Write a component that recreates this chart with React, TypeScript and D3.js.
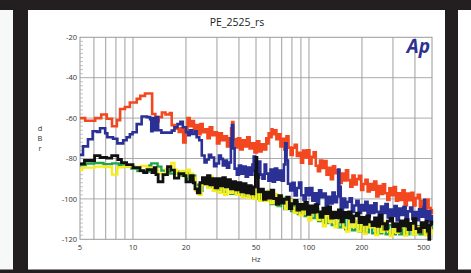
import * as d3 from 'd3';
import * as React from 'react';

type Pt = [number, number];

const title = 'PE_2525_rs';
const xTicks = [5, 10, 20, 50, 100, 200, 500];
const xGrid = [6, 7, 8, 9, 10, 20, 30, 40, 50, 60, 70, 80, 90, 100, 200, 300, 400];
const yTicks = [-20, -40, -60, -80, -100, -120];

// [Hz, dBr]
const red: Pt[] = [
  [5, -60], [5.35, -61.3], [6.1, -60], [6.6, -58.2], [7.1, -60.3], [7.6, -64], [8.1, -61], [8.45, -55.5],
  [9.0, -54.5], [9.6, -52.3], [10.5, -50.5], [11.0, -49], [11.7, -47.8], [12.55, -47.8], [12.85, -58],
  [13.4, -61.5], [14.0, -59.5], [14.6, -57.2], [15.3, -58.2], [16.2, -57.5], [16.6, -63.5], [17.3, -65.2],
  [18.2, -66.8], [18.8, -65], [19.3, -72], [19.9, -66], [20.4, -60], [21.0, -64], [21.6, -61.5],
  [22.2, -65.5], [22.8, -63.5], [23.5, -68], [24.2, -63], [24.9, -67], [25.7, -65.5], [26.5, -70],
  [27.3, -64.5], [28.2, -68.5], [29.1, -67], [30.0, -72.5], [31.0, -67.5], [32.0, -71], [33.1, -69],
  [34.2, -74], [35.3, -70], [36.1, -65], [36.6, -62], [37.2, -70.5], [38.3, -74.5], [39.5, -70],
  [40.7, -75.5], [42.0, -71], [43.3, -74], [44.6, -69.5], [46.0, -75], [47.5, -72.5], [49.0, -77],
  [50.6, -71.5], [52.2, -76.5], [53.8, -73], [55.5, -75.5], [57.2, -70], [58.0, -72.5], [59.0, -67.5],
  [60.5, -69.5], [61.3, -65.5], [62.0, -68], [63.6, -66], [65.3, -70.5], [67.0, -68], [68.8, -74],
  [70.6, -70.3], [72.5, -75.7], [74.5, -69], [76.5, -74.6], [78.6, -78.3], [80.8, -74.7], [83.0, -73.2],
  [85.3, -78.7], [87.7, -77.2], [90.1, -82.1], [92.6, -76.1], [95.2, -79.5], [97.9, -76], [100.6, -82.6],
  [103.4, -79.2], [106.3, -76.9], [109.3, -83.6], [112.4, -86.3], [115.6, -81], [118.9, -84.7],
  [122.3, -81.3], [125.8, -88], [129.4, -84.6], [133.1, -90.2], [136.9, -83.8], [140.8, -87.3],
  [144.8, -85.8], [149.0, -92.1], [153.3, -87.5], [157.7, -90.9], [162.2, -85.8], [166.9, -90.7],
  [171.7, -94], [176.6, -88.4], [181.7, -92.8], [186.9, -90.2], [192.3, -88.6], [197.8, -95.6],
  [203.5, -92.6], [209.4, -90.5], [215.4, -96.3], [221.6, -92.7], [228.0, -95.5], [234.6, -91.4],
  [241.4, -98.8], [248.4, -93.7], [255.6, -97.5], [263.0, -92.8], [270.6, -97.2], [278.4, -100.5],
  [286.4, -94.8], [294.7, -98.2], [303.2, -94.1], [312.0, -100.9], [321.0, -97.2], [330.3, -100.5],
  [339.8, -95.8], [349.6, -103.1], [359.7, -97.4], [370.1, -100.7], [380.8, -97], [391.8, -103.3],
  [403.1, -99.6], [414.7, -98], [426.7, -104], [439.0, -101], [451.7, -105.5], [464.7, -100.5],
  [478.1, -104.5], [491.9, -107], [500, -105],
];

const blue: Pt[] = [
  [5, -78.2], [5.2, -74], [5.55, -70.5], [5.9, -66.5], [6.25, -66.8], [6.5, -65], [6.95, -67.5], [7.15, -69.5],
  [7.7, -70.2], [8.15, -72.5], [8.8, -71], [9.2, -69.5], [9.6, -68], [9.95, -67], [10.5, -63], [11.2, -59.2],
  [12.0, -59.5], [12.5, -60.5], [12.7, -66.5], [12.9, -60], [13.3, -66], [13.6, -59.5], [13.9, -66],
  [14.5, -67.2], [16.6, -66.2], [17.2, -64.5], [17.9, -63], [18.6, -61.8], [19.2, -64.5], [20.0, -67],
  [20.6, -68.5], [21.0, -66], [21.7, -67.8], [22.5, -66.5], [23.0, -69.5], [23.8, -71], [24.6, -78.5],
  [25.5, -82], [26.2, -80.5], [27.0, -78.2], [27.8, -79.5], [28.9, -83.8], [29.8, -82.5], [30.8, -78.5],
  [31.6, -80.2], [32.4, -83.5], [33.3, -81], [34.2, -84.5], [35.2, -82], [36.0, -70], [36.5, -63.5],
  [37.1, -75], [37.8, -85], [38.9, -88], [40.0, -83.5], [41.2, -87.5], [42.4, -84], [43.7, -89],
  [45.0, -84.5], [46.3, -88], [47.7, -83], [48.5, -79], [49.3, -86], [50.6, -89.5], [52.0, -81.5],
  [52.9, -88], [54.4, -90], [56.0, -83], [57.1, -87.5], [58.8, -91], [60.5, -85.5], [62.3, -91.5],
  [64.1, -85], [66.0, -90.5], [68.0, -86], [70.0, -91], [72.0, -83], [73.3, -72.5], [74.6, -81],
  [76.0, -92.5], [78.2, -95.8], [80.5, -92], [82.9, -98.3], [85.3, -94.6], [87.8, -91.9], [90.4, -98.2],
  [93.1, -100.5], [95.8, -94.8], [98.6, -98.2], [101.5, -94.6], [104.5, -100.9], [107.6, -97.2],
  [110.8, -102.5], [114.1, -95.8], [117.5, -99.1], [121, -97.4], [124.6, -103.7], [128.3, -99],
  [132.1, -102.2], [136.0, -96.9], [140.0, -101.6], [144.2, -98.8], [146.5, -85.5], [148.8, -94],
  [151.5, -105.5], [156.0, -99.8], [160.6, -104.1], [165.4, -101.4], [170.3, -99.7], [175.3, -106.5],
  [180.5, -103.3], [185.9, -101], [191.4, -106.8], [197.1, -103], [203.0, -105.7], [209.0, -101.4],
  [215.2, -108.6], [221.6, -103.3], [228.2, -107], [235.0, -102.2], [242.0, -106.4], [249.2, -109.6],
  [256.6, -103.8], [264.2, -107], [272.1, -102.6], [280.2, -109.2], [288.5, -105.3], [297.1, -108.5],
  [305.9, -103.6], [315.0, -110.7], [324.4, -104.8], [334.0, -107.9], [344.0, -104], [354.2, -110.1],
  [364.7, -106.2], [375.6, -104.3], [386.7, -109.9], [398.2, -106.5], [410.1, -110.6], [422.3, -105.2],
  [434.8, -108.8], [447.8, -104], [452, -100.5], [456, -106], [461.1, -111], [474.8, -106],
  [488.9, -110.7], [500, -108],
];

const green: Pt[] = [
  [5, -83.2], [5.4, -82.5], [6.0, -82.2], [6.8, -82.8], [7.6, -82.4], [8.3, -83.2], [9.0, -83.8], [9.8, -85],
  [10.6, -86.2], [11.4, -86.5], [12.4, -83.5], [12.7, -82.4], [13.8, -84], [14.5, -86], [15.4, -86.8],
  [16.3, -87.5], [17.4, -86.5], [18.4, -88.5], [19.5, -87.2], [20.5, -90], [21.5, -88.5], [22.6, -93],
  [23.7, -96], [24.8, -90.5], [26, -92], [27.2, -94], [28.5, -90.5], [29.8, -95.5], [31.2, -91],
  [32.6, -96.5], [34.1, -92], [35.7, -97.5], [37.3, -93], [39, -98], [40.8, -94], [42.7, -98.5],
  [44.6, -95], [46.6, -99.5], [48.7, -95.5], [50.9, -100], [53.2, -96.5], [55.6, -101], [58.1, -97],
  [60.7, -102.5], [63.4, -98], [66.3, -103.5], [69.3, -99.5], [72.4, -105], [75.7, -100.5], [79.1, -106],
  [82.7, -101.5], [86.4, -107.5], [90.3, -103], [94.4, -108.5], [98.7, -104], [103.2, -109.5],
  [107.9, -105], [112.8, -111], [117.9, -106.5], [123.2, -112], [128.8, -107.5], [134.6, -113],
  [140.7, -108.5], [147, -114], [153.6, -109.5], [160.5, -115], [167.8, -110.5], [175.4, -115.5],
  [183.3, -111], [191.6, -116], [200.3, -111.5], [209.3, -116.5], [218.8, -112], [228.7, -117],
  [239, -112.5], [249.8, -117], [261.1, -112.5], [272.9, -117.5], [285.2, -113], [298.1, -117.5],
  [311.5, -113], [325.6, -117.5], [340.3, -113.5], [355.7, -117.5], [371.8, -113.5], [388.6, -117.5],
  [406.2, -113.5], [424.5, -117.5], [443.7, -113.5], [463.7, -117], [484.7, -113.5], [500, -116],
];

const yellow: Pt[] = [
  [5, -85.7], [5.15, -84.5], [6.1, -84], [6.9, -84.2], [7.6, -88], [8.15, -84.3], [8.8, -84], [9.5, -83.8],
  [10.3, -84.2], [11.1, -83.7], [12.0, -84.5], [13.0, -85.2], [13.8, -87.5], [14.8, -88.2], [15.4, -85.2],
  [16.5, -82.2], [17.2, -85.5], [17.8, -87.5], [18.6, -86.2], [19.4, -88.8], [20.2, -85.5], [21.0, -87.5],
  [21.9, -89.5], [22.7, -96], [23.6, -98], [24.5, -93], [25.4, -90], [26.4, -94.5], [27.4, -89],
  [28.4, -96], [29.5, -91.5], [30.6, -97], [31.8, -91], [33, -98], [34.3, -93], [35.6, -97], [37, -92],
  [38.4, -98], [39.9, -93.5], [41.4, -99], [43, -94.5], [44.7, -99.5], [46.4, -95], [48.2, -100],
  [50.1, -95.5], [52, -101], [54, -96.5], [56.1, -101], [58.3, -96], [60.5, -102], [62.9, -97.5],
  [65.3, -103], [67.8, -98.5], [70.4, -100.6], [73.2, -104.9], [76, -100.7], [79, -104.5], [82, -106.9],
  [85.2, -103], [88.5, -108.1], [92, -102.4], [95.5, -107.4], [99.2, -110.6], [103.1, -106.6],
  [107.1, -105.3], [111.2, -110.4], [115.5, -109.1], [120, -113.6], [124.7, -108.3], [129.5, -111.5],
  [134.5, -108.3], [139.7, -114.1], [145.1, -110.9], [150.8, -108.5], [156.6, -114.2], [162.7, -116.2],
  [169, -111], [175.6, -113.9], [182.4, -110.5], [189.5, -116.1], [196.8, -112.6], [204.4, -117.3],
  [212.4, -111.2], [220.6, -114], [229.2, -112.4], [238.1, -117.9], [247.3, -113.5], [256.9, -116.3],
  [266.9, -111.4], [277.2, -115.6], [288, -118.4], [299.2, -113.1], [310.8, -116.8], [322.8, -114.1],
  [335.3, -112.3], [348.3, -118.2], [361.8, -115], [375.9, -112.8], [390.4, -117.7], [405.6, -114],
  [421.3, -116.5], [437.7, -112.2], [454.6, -118], [472.3, -114], [490.6, -117], [500, -115],
];

const black: Pt[] = [
  [5, -82.7], [5.3, -81], [6.05, -78.6], [6.5, -79.5], [7.08, -79.8], [7.57, -78.6], [8.2, -80.5], [8.6, -82],
  [9.2, -83], [10.0, -84.5], [10.96, -86], [11.5, -87], [12.0, -85.5], [12.8, -87], [13.2, -84.5], [13.5, -88],
  [13.9, -91.5], [14.8, -88], [15.7, -84], [16.4, -85.8], [17.2, -89.7], [18.2, -87.5], [19.4, -88.5],
  [20.0, -91.5], [21.2, -88.5], [22.0, -92], [22.5, -95], [23.2, -97], [24.0, -92], [24.8, -89.5],
  [25.6, -92.5], [26.5, -88.5], [27.4, -93], [28.3, -90], [29.3, -94.5], [30.3, -90], [31.3, -93.5],
  [32.4, -89.5], [33.5, -94], [34.6, -90.5], [35.8, -95], [37.0, -91.5], [38.3, -95.5], [39.6, -92],
  [41.0, -96.5], [42.4, -92.5], [43.9, -97], [45.4, -93.5], [47.0, -97.5], [48.6, -94], [49.6, -86],
  [50.1, -79.5], [50.6, -88], [51.5, -96.5], [53.3, -95.2], [55.1, -100.2], [57.0, -96.7], [59.0, -99.6],
  [61.0, -95.7], [63.1, -99.8], [65.3, -102.7], [67.5, -98.4], [69.8, -102.1], [72.2, -100.2],
  [74.7, -99.1], [77.3, -104.8], [79.9, -102.4], [82.7, -100.8], [85.5, -105.5], [88.5, -102.7],
  [91.5, -105], [94.7, -101.7], [97.9, -107.6], [101.3, -103.5], [104.8, -106.6], [108.4, -102.9],
  [112.1, -106.4], [115.9, -109.1], [119.9, -104.6], [124, -107.3], [128.3, -104], [132.7, -109.5],
  [137.3, -106.6], [142, -109.2], [146.9, -105.5], [151.9, -111.3], [157.1, -106.7], [162.5, -109.3],
  [168.1, -106.4], [173.9, -111.4], [179.9, -108.4], [186.1, -107.1], [192.5, -111.7], [199.1, -109.2],
  [205.9, -112.6], [213, -108.4], [220.3, -111.4], [227.9, -113.2], [235.7, -109.4], [243.8, -113.6],
  [252.2, -108.1], [260.9, -112.3], [269.9, -114.9], [279.2, -111], [288.8, -109.6], [298.7, -113.7],
  [309, -112.3], [319.6, -116], [330.6, -110.9], [342, -113.4], [353.8, -110.3], [366, -115.2],
  [378.6, -112.1], [391.6, -109.8], [405.1, -114.7], [419, -116.4], [433.5, -111.7], [448.4, -114.2],
  [463.8, -111.1], [470, -116], [479.8, -120], [485, -113], [492, -111.5], [500, -113],
];

const series = [
  { name: 'red', data: red, color: '#f2471f', width: 2.6 },
  { name: 'blue', data: blue, color: '#2b3094', width: 2.6 },
  { name: 'green', data: green, color: '#22a34a', width: 2.4 },
  { name: 'yellow', data: yellow, color: '#f7ec1c', width: 2.4 },
  { name: 'black', data: black, color: '#111111', width: 2.8 },
];

const W = 471;
const H = 273;
const plot = { left: 80, right: 432, top: 37.3, bottom: 239.3 };

export default function App() {
  const x = d3.scaleLog().domain([5, 500]).range([plot.left, plot.right]);
  const y = d3.scaleLinear().domain([-120, -20]).range([plot.bottom, plot.top]);
  const line = d3
    .line<Pt>()
    .x((d) => x(d[0]))
    .y((d) => y(d[1]))
    .curve(d3.curveStepAfter);
  const minor = d3.range(-120, -20, 2).filter((v) => v % 20 !== 0);
  const font = "'Open Sans', 'Liberation Sans', sans-serif";

  return (
    <div style={{ position: 'fixed', left: 0, top: 0 }}>
      <svg width={W} height={H} style={{ display: 'block' }} fontFamily={font}>
        <defs>
          <clipPath id="plotClip">
            <rect x={plot.left} y={plot.top - 2} width={plot.right - plot.left + 1.5} height={plot.bottom - plot.top + 4} />
          </clipPath>
        </defs>
        <rect width={W} height={H} fill="#231f20" />
        <rect x={0} y={10} width={13} height={259.5} fill="#f7f9f9" />
        <rect x={28} y={10} width={417} height={259.5} fill="#ffffff" />
        <rect x={458} y={10} width={13} height={259.5} fill="#ffffff" />

        <text x={237} y={25.5} textAnchor="middle" fontSize={10.5} fill="#222">
          {title}
        </text>

        {yTicks.slice(1, -1).map((t) => (
          <line key={t} x1={plot.left} x2={plot.right} y1={y(t)} y2={y(t)} stroke="#ababab" strokeWidth={1} />
        ))}
        {xGrid.map((t) => (
          <line key={t} x1={x(t)} x2={x(t)} y1={plot.top} y2={plot.bottom} stroke="#9e9e9e" strokeWidth={1} />
        ))}
        {minor.map((t) => (
          <line key={t} x1={plot.left} x2={plot.left + 3} y1={y(t)} y2={y(t)} stroke="#9e9e9e" strokeWidth={0.6} />
        ))}
        <rect
          x={plot.left}
          y={plot.top}
          width={plot.right - plot.left}
          height={plot.bottom - plot.top}
          fill="none"
          stroke="#9a9a9a"
          strokeWidth={1}
        />

        <text x={430} y={53} textAnchor="end" fontSize={19} fontWeight="bold" fontStyle="italic" fill="#2e3192">
          Ap
        </text>

        <g clipPath="url(#plotClip)">
          {series.map((s) => (
            <path
              key={s.name}
              d={line(s.data) ?? ''}
              fill="none"
              stroke={s.color}
              strokeWidth={s.width}
              strokeLinejoin="miter"
            />
          ))}
        </g>

        {yTicks.map((t) => (
          <text key={t} x={plot.left - 3} y={y(t)} dy="0.35em" textAnchor="end" fontSize={7.5} fill="#333">
            {t}
          </text>
        ))}
        {xTicks.map((t) => (
          <text
            key={t}
            x={t === 500 ? x(t) - 2 : x(t)}
            y={250}
            textAnchor={t === 500 ? 'end' : 'middle'}
            fontSize={7.5}
            fill="#333"
          >
            {t}
          </text>
        ))}
        <text x={256} y={262} textAnchor="middle" fontSize={7.5} fill="#333">
          Hz
        </text>
        {['d', 'B', 'r'].map((c, i) => (
          <text key={c} x={40} y={130.5 + i * 10} textAnchor="middle" fontSize={7.5} fill="#333">
            {c}
          </text>
        ))}
      </svg>
    </div>
  );
}
